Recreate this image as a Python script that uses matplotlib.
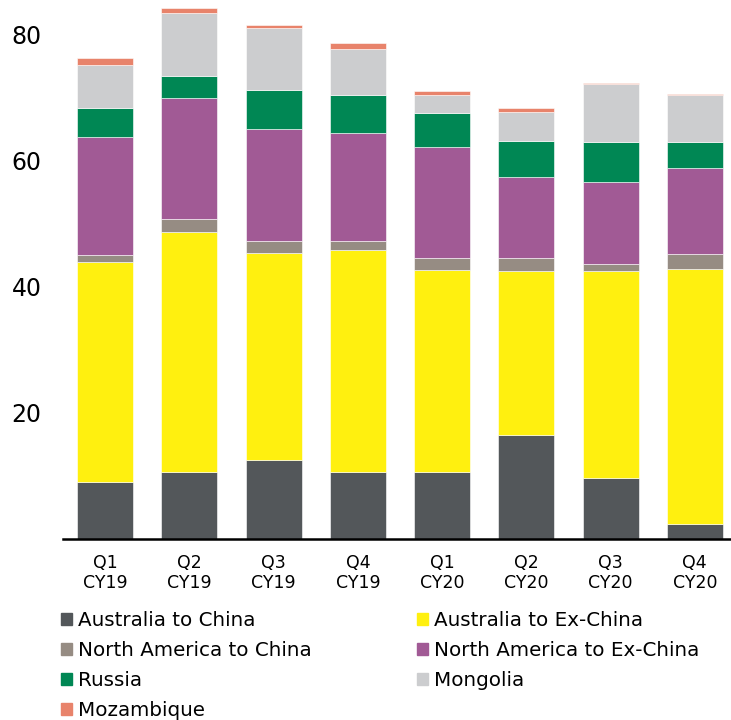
import numpy as np
import matplotlib
matplotlib.use('Agg')
import matplotlib.pyplot as plt
from matplotlib.patches import Patch

quarters = ['Q1\nCY19', 'Q2\nCY19', 'Q3\nCY19', 'Q4\nCY19',
            'Q1\nCY20', 'Q2\nCY20', 'Q3\nCY20', 'Q4\nCY20']

aus_china = [9.1, 10.6, 12.6, 10.7, 10.6, 16.5, 9.6, 2.4]
aus_exchina = [34.9, 38.1, 32.8, 35.2, 32.0, 26.0, 32.9, 40.4]
na_china = [1.1, 2.0, 1.9, 1.4, 1.9, 2.1, 1.1, 2.4]
na_exchina = [18.7, 19.2, 17.8, 17.1, 17.7, 12.8, 13.0, 13.6]
russia = [4.6, 3.5, 6.1, 6.1, 5.4, 5.8, 6.3, 4.2]
mongolia = [6.8, 10.1, 9.9, 7.2, 2.9, 4.6, 9.2, 7.4]
mozambique = [1.1, 0.7, 0.5, 1.0, 0.5, 0.5, 0.3, 0.2]

series = [
    ('Australia to China', aus_china, '#53575a'),
    ('Australia to Ex-China', aus_exchina, '#fff00f'),
    ('North America to China', na_china, '#968c83'),
    ('North America to Ex-China', na_exchina, '#a15a95'),
    ('Russia', russia, '#008754'),
    ('Mongolia', mongolia, '#cccdcf'),
    ('Mozambique', mozambique, '#e8836b'),
]

fig = plt.figure(figsize=(7.31, 7.20), dpi=100)
ax = fig.add_axes([63 / 731, 1 - 539 / 720, 668 / 731, 539 / 720])

x = np.arange(len(quarters))
bottom = np.zeros(len(quarters))
handles = {}
for name, vals, col in series:
    vals = np.array(vals)
    ax.bar(x, vals, 0.665, bottom=bottom, color=col,
           edgecolor='white', linewidth=0.4)
    bottom += vals
    handles[name] = Patch(color=col)

ax.set_xlim(-0.5, 7.43)
ax.set_ylim(0, 85.5)
ax.set_yticks([20, 40, 60, 80])
ax.tick_params(axis='y', length=0, labelsize=17, pad=37)
for lbl in ax.get_yticklabels():
    lbl.set_horizontalalignment('left')
ax.set_xticks(x)
ax.set_xticklabels(quarters, fontsize=12.5, linespacing=1.15)
ax.tick_params(axis='x', length=0, pad=11)
for s in ['top', 'right', 'left']:
    ax.spines[s].set_visible(False)
ax.spines['bottom'].set_linewidth(1.8)
ax.spines['bottom'].set_color('black')

# two-column legend, filled column by column
order = ['Australia to China', 'North America to China', 'Russia',
         'Mozambique', 'Australia to Ex-China', 'North America to Ex-China',
         'Mongolia']
fig.legend([handles[n] for n in order], order, ncol=2, loc='upper left',
           bbox_to_anchor=(61 / 731, 1 - 611 / 720), frameon=False,
           fontsize=14.3, handlelength=0.55, handleheight=0.55,
           handletextpad=0.3, labelspacing=0.56, columnspacing=5.3,
           borderpad=0, borderaxespad=0)

plt.savefig('out.png', dpi=100)
